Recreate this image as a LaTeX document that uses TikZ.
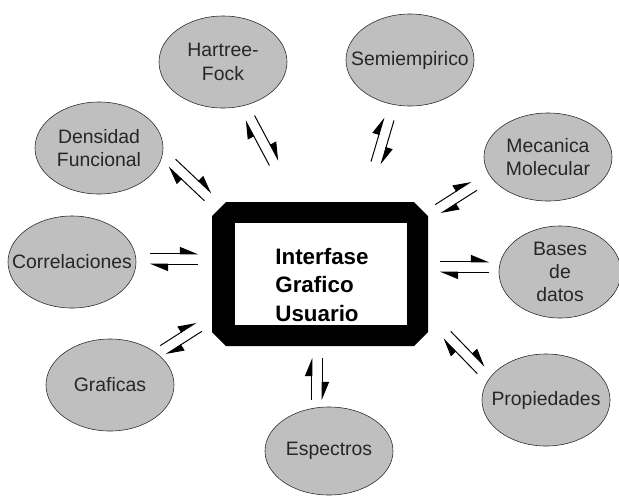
\documentclass[tikz,border=0pt]{standalone}
\usepackage{fontspec}
\setmainfont{Liberation Sans}
\usetikzlibrary{arrows.meta,shapes.geometric,calc}

\begin{document}
\begin{tikzpicture}[x=0.025cm,y=-0.025cm]
\useasboundingbox (0,0) rectangle (619,495);

% frame of the central box
\fill[black] (226,202) -- (414,202) -- (428,216) -- (428,332) -- (414,346)
    -- (226,346) -- (212,332) -- (212,216) -- cycle;
\fill[white] (235,223) rectangle (407,325);
\node[align=left,inner sep=0pt,font=\fontsize{15.9}{20.2}\selectfont\bfseries]
      (gui) at (322,285) {Interfase\\Grafico\\Usuario};

\begin{scope}[every node/.style={ellipse,draw=black!85,fill=black!25,thin,
              minimum width=3.2cm,minimum height=2.3cm,
              inner xsep=-1cm,inner ysep=-0.5cm,align=center,text=black!85,
              font=\fontsize{13.8}{16.5}\selectfont}]
    \node (hf) at (223,62) {Hartree-\\Fock};
    \node (se) at (410,60) {Semiempirico};
    \node (df) at (99,148) {Densidad\\Funcional};
    \node (co) at (72,262) {Correlaciones};
    \node (gr) at (110,385) {Graficas};
    \node (es) at (329,451) [minimum height=2.2cm] {Espectros};
    \node (pr) at (546,400) {Propiedades};
    \node (bd) at (560,272) [minimum width=3.05cm,minimum height=2.3cm]
          {Bases\\de\\datos};
    \node (mm) at (548,157) [minimum height=2.2cm] {Mecanica\\Molecular};
\end{scope}

\begin{scope}[>={Triangle[harpoon,length=0.42cm,width=0.34cm]},
              pairline/.style={draw=black,line width=0.7pt,->}]
\foreach \n/\ax/\ay/\bx/\by in {hf/274/163/250/118, se/376/163/389/119,
        df/208/197/172/163, co/198/259/150/259, gr/199/327/163/350,
        es/317/358/317/400, pr/447/335/481/370, bd/440/267/489/267,
        mm/438/209/474/186} {
    \coordinate (\n-in) at (\ax,\ay);
    \coordinate (\n-out) at (\bx,\by);
    \draw[pairline] ($(\n-in)!0.13cm!90:(\n-out)$) -- ($(\n-out)!0.13cm!-90:(\n-in)$);
    \draw[pairline] ($(\n-out)!0.13cm!90:(\n-in)$) -- ($(\n-in)!0.13cm!-90:(\n-out)$);
}
\end{scope}
\end{tikzpicture}
\end{document}
